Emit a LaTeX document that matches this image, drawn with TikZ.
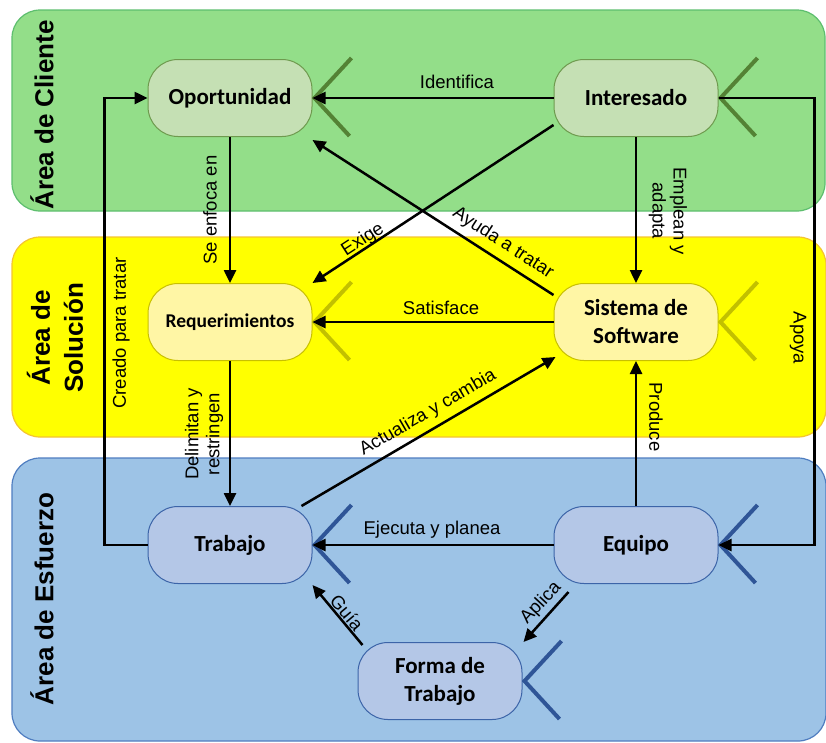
\documentclass[tikz,border=0pt]{standalone}
\usepackage{fontspec}
\setmainfont{Liberation Sans}
\newfontfamily\nodefont{Carlito}
\usetikzlibrary{arrows.meta}

\definecolor{gband}{HTML}{93DE89}
\definecolor{gbandline}{HTML}{5DBE6E}
\definecolor{gnode}{HTML}{C5E0B4}
\definecolor{gnodeline}{HTML}{6E9A4E}
\definecolor{gfork}{HTML}{548235}
\definecolor{yband}{HTML}{FFFF00}
\definecolor{ybandline}{HTML}{F4C430}
\definecolor{ynode}{HTML}{FFF6A5}
\definecolor{ynodeline}{HTML}{C8C000}
\definecolor{yfork}{HTML}{C2C000}
\definecolor{bband}{HTML}{9DC3E6}
\definecolor{bbandline}{HTML}{4F7DC0}
\definecolor{bnode}{HTML}{B4C7E7}
\definecolor{bnodeline}{HTML}{3C64A8}
\definecolor{bfork}{HTML}{2F5597}

\begin{document}
\begin{tikzpicture}[x=1pt,y=-1pt,
  band/.style={rounded corners=28pt, line width=1.2pt},
  concept/.style={rounded corners=30pt, minimum width=164pt, minimum height=77pt,
    line width=1pt, font=\nodefont\bfseries\fontsize{23}{28}\selectfont,
    align=center, inner sep=0pt},
  gconcept/.style={concept, fill=gnode, draw=gnodeline},
  yconcept/.style={concept, fill=ynode, draw=ynodeline},
  bconcept/.style={concept, fill=bnode, draw=bnodeline},
  arr/.style={line width=2.5pt, -{Triangle[length=13pt,width=12pt]}},
  link/.style={line width=2.5pt},
  lbl/.style={font=\fontsize{18.5}{21}\selectfont, align=center, inner sep=0pt},
  area/.style={font=\bfseries\fontsize{26}{33}\selectfont, align=center,
    inner sep=0pt, rotate=90},
  fork/.style={line width=4pt}
]
\useasboundingbox (0,0) rectangle (826,742);

% swimlane bands
\draw[band, fill=gband, draw=gbandline] (12,10) rectangle (825,211);
\draw[band, fill=yband, draw=ybandline] (12,237) rectangle (826,437);
\draw[band, fill=bband, draw=bbandline] (12,458) rectangle (826,741);

\node[area] (aC) at (42,115) {Área de Cliente};
\node[area] (aS) at (55,338) {Área de\\Solución};
\node[area] (aE) at (42,599) {Área de Esfuerzo};

% concepts
\node[gconcept] (opo) at (230,98) {Oportunidad};
\node[gconcept] (int) at (636,98) {Interesado};
\node[yconcept, font=\nodefont\bfseries\fontsize{19.5}{24}\selectfont] (req) at (230,322) {Requerimientos};
\node[yconcept] (sis) at (636,322) {Sistema de\\Software};
\node[bconcept] (tra) at (230,545) {Trabajo};
\node[bconcept] (equ) at (636,545) {Equipo};
\node[bconcept] (frm) at (440,681) {Forma de\\Trabajo};

% forks on the right side of each concept
\foreach \n/\c in {opo/gfork, int/gfork, req/yfork, sis/yfork, tra/bfork, equ/bfork, frm/bfork}{
  \draw[fork, draw=\c] ([shift={(39pt,40pt)}]\n.east) -- ([xshift=2pt]\n.east)
    -- ([shift={(37pt,-38pt)}]\n.east);
}

% relationships
\draw[arr] (int.west) -- (opo.east);
\draw[arr] (opo.south) -- (req.north);
\draw[arr] ([yshift=-27pt]int.west) -- (req.north east);
\draw[arr] ([yshift=27pt]sis.west) -- ([yshift=-3pt]opo.south east);
\draw[arr] (int.south) -- (sis.north);
\draw[arr] (sis.west) -- (req.east);
\draw[arr] (req.south) -- (tra.north);
\draw[arr] ([xshift=-11pt]tra.north east) -- ([shift={(2pt,4pt)}]sis.south west);
\draw[arr] (equ.north) -- (sis.south);
\draw[arr] (equ.west) -- (tra.east);
\draw[arr] (tra.west) -- ++(-43,0) |- (opo.west);
\draw[arr] (int.east) -- ++(96,0) |- (equ.east);
\draw[arr] ([shift={(15pt,-8pt)}]equ.south west) -- ([xshift=1pt]frm.north east);
\draw[arr] ([shift={(5pt,-3pt)}]frm.north west) -- ([yshift=-1pt]tra.south east);

% relationship labels
\node[lbl] (lId) at (457,82) {Identifica};
\node[lbl, rotate=90] (lSe) at (210,210) {Se enfoca en};
\node[lbl, rotate=33] (lEx) at (363,240) {Exige};
\node[lbl, rotate=-33] (lAy) at (503,243) {Ayuda a tratar};
\node[lbl, rotate=-90] (lEm) at (668,211) {Emplean y\\adapta};
\node[lbl] (lSa) at (441,308) {Satisface};
\node[lbl, rotate=90] (lDe) at (204,434) {Delimitan y\\restringen};
\node[lbl, rotate=30] (lAc) at (428,413) {Actualiza y cambia};
\node[lbl, rotate=-90] (lPr) at (656,417) {Produce};
\node[lbl] (lEj) at (432,530) {Ejecuta y planea};
\node[lbl, rotate=90] (lCr) at (121,333) {Creado para tratar};
\node[lbl, rotate=-90] (lAp) at (798,338) {Apoya};
\node[lbl, rotate=47] (lAl) at (541,603) {Aplica};
\node[lbl, rotate=-50] (lGu) at (347,613) {Guía};
\end{tikzpicture}
\end{document}
